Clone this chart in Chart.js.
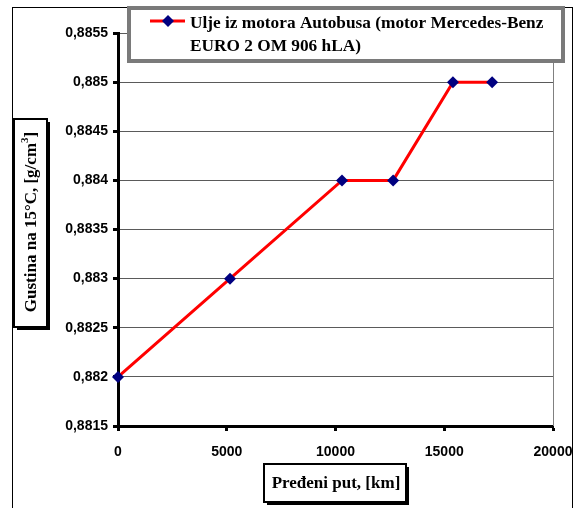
<!DOCTYPE html>
<html>
<head>
<meta charset="utf-8">
<script src="https://cdn.jsdelivr.net/npm/chart.js@4/dist/chart.umd.min.js"></script>
<style>
  html, body { margin: 0; padding: 0; background: #fff; }
  #wrap { width: 577px; height: 508px; position: relative; }
</style>
</head>
<body>
<div id="wrap"><canvas id="c"></canvas></div>
<script>
// Distance travelled [km] and oil density at 15 °C [g/cm3]
const distanceKm = [0, 5150, 10300, 12650, 15400, 17200];
const density = [0.882, 0.883, 0.884, 0.884, 0.885, 0.885];

const xTickValues = [0, 5000, 10000, 15000, 20000];
const xTickLabels = ['0', '5000', '10000', '15000', '20000'];
const yTickValues = [0.8815, 0.882, 0.8825, 0.883, 0.8835, 0.884, 0.8845, 0.885, 0.8855];
const yTickLabels = ['0,8815', '0,882', '0,8825', '0,883', '0,8835', '0,884', '0,8845', '0,885', '0,8855'];

const seriesLines = ['Ulje iz motora Autobusa (motor Mercedes-Benz', 'EURO 2 OM 906 hLA)'];
const xTitle = 'Pređeni put, [km]';
const yTitleMain = 'Gustina na 15°C, [g/cm';
const yTitleSup = '3';
const yTitleEnd = ']';

const SERIF = '"Liberation Serif", "Times New Roman", serif';
const SANS = '"Liberation Sans", Arial, sans-serif';

function diamond(ctx, x, y, r) {
  ctx.beginPath();
  ctx.moveTo(x, y - r);
  ctx.lineTo(x + r, y);
  ctx.lineTo(x, y + r);
  ctx.lineTo(x - r, y);
  ctx.closePath();
  ctx.fill();
}

// Box with a black outline and a drop shadow on the right/bottom
function shadowBox(ctx, x, y, w, h) {
  ctx.fillStyle = '#000';
  ctx.fillRect(x + 3, y + 3, w, h);
  ctx.fillStyle = '#fff';
  ctx.fillRect(x, y, w, h);
  ctx.strokeStyle = '#000';
  ctx.lineWidth = 2;
  ctx.strokeRect(x, y, w, h);
}

const decorations = {
  id: 'decorations',
  beforeDraw(chart) {
    const ctx = chart.ctx;
    ctx.save();
    ctx.fillStyle = '#fff';
    ctx.fillRect(0, 0, chart.width, chart.height);
    ctx.strokeStyle = '#000';
    ctx.lineWidth = 1;
    ctx.strokeRect(12.5, 7.5, 560, 520);
    ctx.restore();
  },
  beforeDatasetsDraw(chart) {
    const ctx = chart.ctx;
    const a = chart.chartArea;
    ctx.save();
    ctx.strokeStyle = '#808080';
    ctx.lineWidth = 1;
    ctx.beginPath();
    ctx.moveTo(Math.round(a.right) + 0.5, a.top);
    ctx.lineTo(Math.round(a.right) + 0.5, a.bottom);
    ctx.stroke();
    ctx.restore();
  },
  afterDraw(chart) {
    const ctx = chart.ctx;
    ctx.save();

    // Legend
    ctx.fillStyle = '#fff';
    ctx.fillRect(129, 8, 434, 53);
    ctx.strokeStyle = '#7a7a7a';
    ctx.lineWidth = 4;
    ctx.strokeRect(129, 8, 434, 53);
    ctx.strokeStyle = '#ff0000';
    ctx.lineWidth = 3;
    ctx.beginPath();
    ctx.moveTo(150, 21);
    ctx.lineTo(185, 21);
    ctx.stroke();
    ctx.fillStyle = '#000080';
    diamond(ctx, 168, 21, 6);
    ctx.fillStyle = '#000';
    ctx.font = 'bold 17.3px ' + SERIF;
    ctx.textBaseline = 'alphabetic';
    ctx.textAlign = 'left';
    ctx.fillText(seriesLines[0], 190, 28);
    ctx.fillText(seriesLines[1], 190, 51);

    // X axis title
    shadowBox(ctx, 264, 464, 142, 38);
    ctx.fillStyle = '#000';
    ctx.font = 'bold 17px ' + SERIF;
    ctx.textAlign = 'center';
    ctx.textBaseline = 'middle';
    ctx.fillText(xTitle, 336, 484);

    // Y axis title (rotated)
    shadowBox(ctx, 14, 119, 33, 208);
    ctx.translate(31, 222);
    ctx.rotate(-Math.PI / 2);
    ctx.fillStyle = '#000';
    ctx.font = 'bold 17px ' + SERIF;
    const wMain = ctx.measureText(yTitleMain).width;
    ctx.font = 'bold 11px ' + SERIF;
    const wSup = ctx.measureText(yTitleSup).width;
    ctx.font = 'bold 17px ' + SERIF;
    const wEnd = ctx.measureText(yTitleEnd).width;
    let x0 = -(wMain + wSup + wEnd) / 2;
    ctx.textAlign = 'left';
    ctx.textBaseline = 'middle';
    ctx.fillText(yTitleMain, x0, 1);
    ctx.font = 'bold 11px ' + SERIF;
    ctx.fillText(yTitleSup, x0 + wMain, -6);
    ctx.font = 'bold 17px ' + SERIF;
    ctx.fillText(yTitleEnd, x0 + wMain + wSup, 1);

    ctx.restore();
  }
};

new Chart(document.getElementById('c'), {
  type: 'line',
  data: {
    datasets: [{
      label: seriesLines.join(' '),
      data: distanceKm.map((x, i) => ({ x: x, y: density[i] })),
      borderColor: '#ff0000',
      borderWidth: 3,
      tension: 0,
      pointStyle: 'rectRot',
      pointRadius: 6,
      pointHoverRadius: 6,
      pointBackgroundColor: '#000080',
      pointBorderColor: '#000080',
      pointBorderWidth: 0,
      clip: false
    }]
  },
  options: {
    responsive: true,
    maintainAspectRatio: false,
    animation: false,
    events: [],
    layout: { padding: { left: 0, top: 33, right: 24, bottom: 40 } },
    plugins: { legend: { display: false }, tooltip: { enabled: false } },
    scales: {
      x: {
        type: 'linear',
        min: 0,
        max: 20000,
        afterBuildTicks: s => { s.ticks = xTickValues.map(v => ({ value: v })); },
        afterFit: s => { s.height = 42; s.paddingLeft = 0; s.paddingRight = 0; },
        ticks: {
          callback: (v, i) => xTickLabels[i],
          font: { family: SANS, weight: 'bold', size: 14 },
          color: '#000',
          padding: 13,
          maxRotation: 0,
          autoSkip: false
        },
        grid: { drawOnChartArea: false, drawTicks: true, tickLength: 5, tickWidth: 3, tickColor: '#000' },
        border: { color: '#000', width: 3 }
      },
      y: {
        type: 'linear',
        min: 0.8815,
        max: 0.8855,
        afterBuildTicks: s => { s.ticks = yTickValues.map(v => ({ value: v })); },
        afterFit: s => { s.width = 118; s.paddingTop = 0; s.paddingBottom = 0; },
        ticks: {
          callback: (v, i) => yTickLabels[i],
          font: { family: SANS, weight: 'bold', size: 14 },
          color: '#000',
          padding: 5,
          autoSkip: false
        },
        grid: { color: '#5a5a5a', lineWidth: 1, drawTicks: true, tickLength: 5, tickWidth: 3, tickColor: '#000' },
        border: { color: '#000', width: 3 }
      }
    }
  },
  plugins: [decorations]
});
</script>
</body>
</html>
